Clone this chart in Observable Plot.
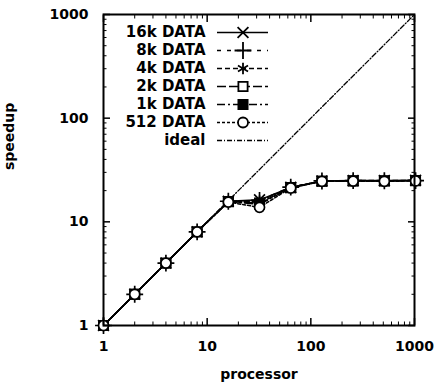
<!DOCTYPE html>
<html>
<head>
<meta charset="utf-8">
<script src="https://cdn.jsdelivr.net/npm/d3@7"></script>
<script src="https://cdn.jsdelivr.net/npm/@observablehq/plot@0.6"></script>
<style>
  html, body { margin: 0; padding: 0; background: white; }
  #wrap { position: relative; width: 444px; height: 384px; }
  #wrap svg { position: absolute; left: 0; top: 0; }
</style>
</head>
<body>
<div id="wrap"></div>
<script>
// ---- data ----
const processors = [1, 2, 4, 8, 16, 32, 64, 128, 256, 512, 1024];
const speedup16k = [1, 2, 4, 8, 15.8, 16.3, 21.5, 24.8, 25.0, 25.0, 25.2];
const speedup8k  = [1, 2, 4, 8, 15.8, 16.1, 21.6, 24.8, 25.0, 24.9, 25.0];
const speedup4k  = [1, 2, 4, 8, 15.7, 15.8, 21.5, 24.7, 25.0, 25.0, 25.0];
const speedup2k  = [1, 2, 4, 8, 15.7, 15.2, 21.4, 24.7, 24.9, 24.9, 25.0];
const speedup1k  = [1, 2, 4, 8, 15.6, 14.8, 21.3, 24.6, 24.8, 24.8, 24.9];
const speedup512 = [1, 2, 4, 8, 15.5, 13.8, 21.2, 24.6, 24.7, 24.6, 24.8];
const idealProcessors = [1, 1000];
const idealSpeedup = [1, 1000];
const seriesNames = ["16k DATA", "8k DATA", "4k DATA", "2k DATA", "1k DATA", "512 DATA", "ideal"];
const xTickValues = [1, 10, 100, 1000];
const yTickValues = [1, 10, 100, 1000];

// ---- styles ----
const style = {
  "16k DATA": {dash: null,        symbol: "times",    fill: "none"},
  "8k DATA":  {dash: "4,6",       symbol: "plus",     fill: "none"},
  "4k DATA":  {dash: "5,3",       symbol: "asterisk", fill: "none"},
  "2k DATA":  {dash: "9,3",       symbol: "square",   fill: "white"},
  "1k DATA":  {dash: "8,3,2,3",   symbol: "square",   fill: "black"},
  "512 DATA": {dash: "3,2",       symbol: "circle",   fill: "white"},
  "ideal":    {dash: "5,2,1,2",   symbol: null,       fill: "none"}
};
const symR = {times: 5, plus: 5.5, asterisk: 5.5, square: 5.2, circle: 5};

const seriesValues = [speedup16k, speedup8k, speedup4k, speedup2k, speedup1k, speedup512];
const dataRows = seriesValues.map((vals, i) =>
  processors.map((p, j) => ({series: seriesNames[i], processor: p, speedup: vals[j]})));
const idealRows = idealProcessors.map((p, j) => ({series: "ideal", processor: p, speedup: idealSpeedup[j]}));

const minorTicks = d3.scaleLog().domain([1, 1000]).ticks().filter(v => !xTickValues.includes(v));
const font = "DejaVu Sans, Liberation Sans, Arial, sans-serif";

const marks = [];
marks.push(Plot.line(idealRows, {x: "processor", y: "speedup", stroke: "black", strokeWidth: 1.3,
  strokeDasharray: style["ideal"].dash, clip: true}));
dataRows.forEach((rows, i) => {
  const s = style[seriesNames[i]];
  marks.push(Plot.line(rows, {x: "processor", y: "speedup", stroke: "black", strokeWidth: 1.5,
    strokeDasharray: s.dash}));
});
dataRows.forEach((rows, i) => {
  const s = style[seriesNames[i]];
  marks.push(Plot.dot(rows, {x: "processor", y: "speedup", symbol: s.symbol, r: symR[s.symbol],
    stroke: "black", strokeWidth: 1.7, fill: s.fill}));
});
// inward ticks on all four sides
for (const anchor of ["bottom", "top"]) {
  marks.push(Plot.axisX(xTickValues, {anchor, tickSize: -7, tickFormat: () => "", label: null, strokeWidth: 1.5}));
  marks.push(Plot.axisX(minorTicks, {anchor, tickSize: -3.5, tickFormat: () => "", label: null}));
}
for (const anchor of ["left", "right"]) {
  marks.push(Plot.axisY(yTickValues, {anchor, tickSize: -7, tickFormat: () => "", label: null, strokeWidth: 1.5}));
  marks.push(Plot.axisY(minorTicks, {anchor, tickSize: -3.5, tickFormat: () => "", label: null}));
}
// tick labels
marks.push(Plot.axisX(xTickValues, {anchor: "bottom", tickSize: 0, tickPadding: 16, tickFormat: d => String(d), label: null, fontSize: 14, fontWeight: "bold"}));
marks.push(Plot.axisY(yTickValues, {anchor: "left", tickSize: 0, tickPadding: 15, tickFormat: d => String(d), label: null, fontSize: 14, fontWeight: "bold"}));
// axis titles
marks.push(Plot.text(["processor"], {frameAnchor: "bottom", dy: 53, fontSize: 14, fontWeight: "bold"}));
marks.push(Plot.text(["speedup"], {frameAnchor: "left", dx: -94, rotate: -90, fontSize: 14, fontWeight: "bold"}));
marks.push(Plot.frame({stroke: "black", strokeWidth: 2}));

const chart = Plot.plot({
  width: 444, height: 384,
  marginLeft: 103, marginRight: 30, marginTop: 14, marginBottom: 59,
  x: {type: "log", domain: [1, 1000]},
  y: {type: "log", domain: [1, 1000]},
  style: {fontFamily: font, fontSize: "14px", background: "white", color: "black"},
  marks
});

// ---- legend overlay ----
const legendMarks = [];
seriesNames.forEach(name => {
  const s = style[name];
  legendMarks.push(Plot.ruleY([name], {y: d => d, x1: 0, x2: 1, stroke: "black",
    strokeWidth: name === "ideal" ? 1.3 : 1.5, strokeDasharray: s.dash}));
  if (s.symbol) legendMarks.push(Plot.dot([name], {y: d => d, x: 0.5, symbol: s.symbol, r: symR[s.symbol],
    stroke: "black", strokeWidth: 1.8, fill: s.fill}));
});
legendMarks.push(Plot.text(seriesNames, {y: d => d, x: 0, dx: -12, textAnchor: "end", fontSize: 15, fontWeight: "bold"}));

const legend = Plot.plot({
  width: 444, height: 384, margin: 0,
  x: {domain: [0, 1], range: [217, 268], axis: null},
  y: {type: "point", domain: seriesNames, range: [29, 142], padding: 0, axis: null},
  style: {fontFamily: font, background: "transparent", color: "black"},
  marks: legendMarks
});

const wrap = document.getElementById("wrap");
wrap.appendChild(chart);
wrap.appendChild(legend);
</script>
</body>
</html>
